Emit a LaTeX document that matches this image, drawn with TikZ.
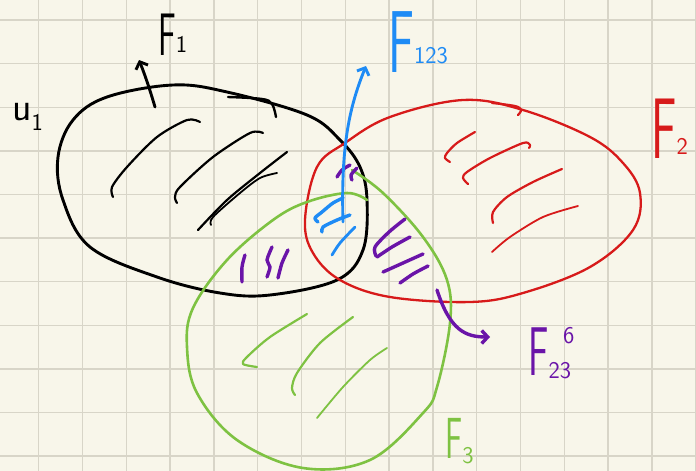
\documentclass[tikz,border=0pt]{standalone}
\usepackage{tikz}
\usepackage{xcolor}
\usetikzlibrary{arrows.meta}

\definecolor{paper}{HTML}{F8F6EA}
\definecolor{gridline}{HTML}{D8D5C8}
\definecolor{inkred}{HTML}{D71A1A}
\definecolor{inkblue}{HTML}{1E8BF5}
\definecolor{inkgreen}{HTML}{7EC242}
\definecolor{inkpurple}{HTML}{6A14A8}

\newcommand{\bigF}[1]{\scalebox{0.55}[1]{\fontsize{#1}{#1}\selectfont\sffamily F}}
\newcommand{\idx}[2][0]{\raisebox{#1pt}{\fontsize{24}{24}\selectfont\sffamily #2}}

\begin{document}
\begin{tikzpicture}[x=1pt, y=-1pt, line cap=round, line join=round,
    rim/.style={line width=2.9pt},
    stroke/.style={line width=2.2pt},
    bold stroke/.style={line width=3.4pt},
    arr/.style={-{Straight Barb[length=6pt, width=13pt]}},
    lbl/.style={inner sep=0pt, anchor=base west}]
  \useasboundingbox (0,0) rectangle (696,471);
  % squared paper
  \fill[paper] (0,0) rectangle (696,471);
  \foreach \gx in {38.7,82.5,...,696} \draw[gridline, line width=1.4pt] (\gx,0) -- (\gx,471);
  \foreach \gy in {20,63.6,...,471} \draw[gridline, line width=1.4pt] (0,\gy) -- (696,\gy);

  % the three sets
  \draw[rim] plot[smooth cycle, tension=0.6] coordinates {(58,157) (73,120) (107,97) (173,85) (227,92)
    (307,115) (340,140) (360,167) (367,200) (363,250) (337,280) (270,295) (220,293) (157,277) (90,247) (63,200)};
  \draw[rim, line width=2.4pt] plot[smooth, tension=0.6] coordinates {(228,97) (262,99) (272,104) (276,117)};
  \draw[rim, inkred, line width=2.3pt] plot[smooth cycle, tension=0.6] coordinates {(305,220) (317,167) (345,143)
    (390,117) (463,100) (523,110) (590,137) (623,163) (640,193) (633,230) (590,267) (523,293) (470,302)
    (390,297) (340,280) (313,253)};
  \draw[inkred, line width=2.2pt] plot[smooth, tension=0.6] coordinates {(492,103) (515,106) (521,110) (518,115)};
  \draw[rim, inkgreen, line width=2.6pt] plot[smooth, tension=0.6] coordinates {(367,200) (347,193) (307,202)
    (273,220) (227,260) (193,308) (187,347) (197,393) (237,440) (303,468) (370,460) (423,413) (437,387)
    (450,323) (447,280) (423,237) (383,193) (352,170)};

  % hatching
  \draw[stroke] plot[smooth] coordinates {(113,197) (112,187) (127,167) (157,137) (187,120) (200,122)};
  \draw[stroke] plot[smooth] coordinates {(177,203) (175,197) (180,187) (213,157) (250,133) (263,133)};
  \draw[stroke] plot[smooth] coordinates {(198,230) (227,200) (260,173) (287,152)};
  \draw[stroke, line width=1.8pt] plot[smooth] coordinates {(211,225) (213,217) (240,193) (260,178) (277,173)};
  \draw[stroke, inkred] plot[smooth] coordinates {(450,162) (445,158) (447,153) (457,143) (475,132)};
  \draw[stroke, inkred] plot[smooth] coordinates {(468,184) (463,178) (467,172) (490,158) (523,143) (530,145) (529,148)};
  \draw[stroke, inkred] plot[smooth] coordinates {(493,223) (493,212) (507,197) (533,182) (562,169)};
  \draw[stroke, inkred, line width=1.8pt] plot[smooth] coordinates {(492,252) (510,237) (543,217) (578,206)};
  \draw[stroke, inkgreen] plot[smooth] coordinates {(257,367) (243,364) (247,357) (270,337) (307,314)};
  \draw[stroke, inkgreen] plot[smooth] coordinates {(295,395) (292,388) (297,373) (320,343) (353,317)};
  \draw[stroke, inkgreen, line width=1.8pt] plot[smooth] coordinates {(317,418) (343,387) (370,360) (387,348)};
  \draw[bold stroke, inkblue] plot[smooth] coordinates {(318,222) (315,218) (322,212) (333,203) (343,198)};
  \draw[bold stroke, inkblue] plot[smooth] coordinates {(322,232) (323,227) (337,220) (350,215)};
  \draw[bold stroke, inkblue, line width=2.8pt] plot[smooth] coordinates {(332,255) (340,243) (355,227)};
  \draw[bold stroke, inkpurple] plot[smooth] coordinates {(337,177) (342,170) (350,165)};
  \draw[bold stroke, inkpurple] plot[smooth] coordinates {(352,180) (351,175) (357,168)};
  \draw[bold stroke, inkpurple] plot[smooth] coordinates {(245,255) (242,267) (242,282)};
  \draw[bold stroke, inkpurple] plot[smooth] coordinates {(272,247) (267,260) (270,267) (267,277)};
  \draw[bold stroke, inkpurple] plot[smooth] coordinates {(288,250) (282,263) (278,278)};
  \draw[bold stroke, inkpurple] plot[smooth] coordinates {(405,219) (389,232) (375,247) (376,256)};
  \draw[bold stroke, inkpurple] plot[smooth] coordinates {(377,257) (392,247) (410,237)};
  \draw[bold stroke, inkpurple] plot[smooth] coordinates {(423,254) (403,263) (383,272)};
  \draw[bold stroke, inkpurple] plot[smooth] coordinates {(428,266) (413,274) (400,283)};

  % labels and arrows
  \node[lbl] (f1) at (158,55) {\bigF{60}\idx[2]{1}};
  \node[lbl] (u1) at (12,120) {\fontsize{40}{40}\selectfont\sffamily u\idx[-10]{1}};
  \node[lbl, inkblue] (f123) at (388,72) {\bigF{88}\idx[9]{123}};
  \node[lbl, inkred] (f2) at (651,158) {\bigF{86}\idx[4]{2}};
  \node[lbl, inkpurple] (f23) at (528,375) {\bigF{69}\idx[-3]{23}\hspace{-8pt}\idx[32]{6}};
  \node[lbl, inkgreen] (f3) at (445,458) {\bigF{58}\idx[-5]{3}};
  \draw[rim, arr] (155,107) .. controls (150,90) and (145,75) .. (139,60);
  \draw[rim, inkblue, arr] (343,222) .. controls (341,150) and (348,110) .. (366,66);
  \draw[bold stroke, inkpurple, arr] (437,290) .. controls (450,330) and (465,337) .. (490,337);
\end{tikzpicture}
\end{document}
